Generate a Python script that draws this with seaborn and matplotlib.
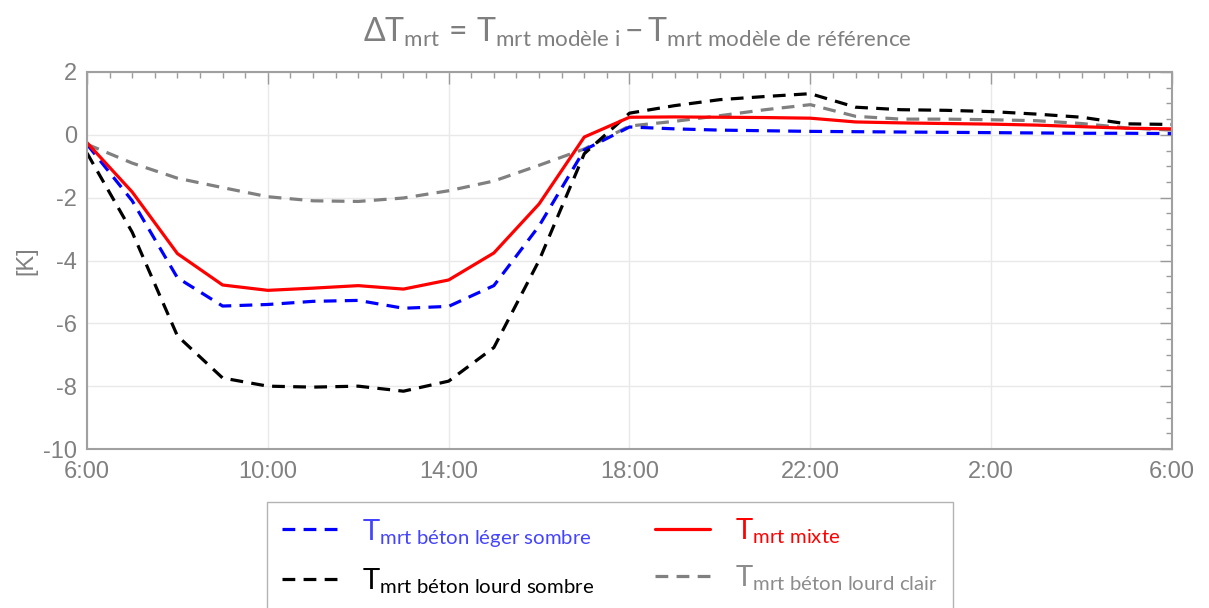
import numpy as np
import pandas as pd
import matplotlib
matplotlib.use("Agg")
import matplotlib.pyplot as plt
from matplotlib.ticker import MultipleLocator, FixedLocator
import seaborn as sns

# Hourly time axis, 6:00 to 6:00 the next day
hours = list(range(6, 31))
tick_hours = [6, 10, 14, 18, 22, 26, 30]
tick_labels = ["6:00", "10:00", "14:00", "18:00", "22:00", "2:00", "6:00"]

# Differences of mean radiant temperature to the reference model [K]
leger_sombre = [-0.30, -2.10, -4.55, -5.45, -5.40, -5.30, -5.27, -5.52, -5.46, -4.80,
                -2.90, -0.48, 0.25, 0.19, 0.15, 0.13, 0.11, 0.10, 0.09, 0.08,
                0.07, 0.06, 0.05, 0.05, 0.04]
mixte = [-0.25, -1.82, -3.78, -4.78, -4.95, -4.88, -4.80, -4.91, -4.62, -3.76,
         -2.20, -0.07, 0.56, 0.57, 0.56, 0.55, 0.53, 0.41, 0.38, 0.36,
         0.34, 0.31, 0.26, 0.21, 0.19]
lourd_sombre = [-0.58, -3.10, -6.40, -7.74, -8.00, -8.03, -8.00, -8.16, -7.84, -6.77,
                -4.00, -0.60, 0.69, 0.93, 1.12, 1.22, 1.31, 0.88, 0.80, 0.78,
                0.74, 0.66, 0.56, 0.35, 0.33]
lourd_clair = [-0.30, -0.90, -1.38, -1.68, -1.97, -2.10, -2.12, -2.01, -1.78, -1.47,
               -0.97, -0.45, 0.28, 0.43, 0.61, 0.80, 0.96, 0.59, 0.50, 0.50,
               0.48, 0.45, 0.36, 0.22, 0.15]

sns.set_style("white")
plt.rcParams["font.family"] = ["Liberation Sans", "DejaVu Sans"]
plt.rcParams["axes.unicode_minus"] = False
plt.rcParams["mathtext.fontset"] = "custom"
plt.rcParams["mathtext.rm"] = "Lato"
plt.rcParams["mathtext.it"] = "Lato:italic"
plt.rcParams["mathtext.bf"] = "Lato:bold"

W, H = 1209, 608
fig = plt.figure(figsize=(W / 100, H / 100), dpi=100)
ax = fig.add_axes([87 / W, 1 - 449 / H, (1172 - 87) / W, (449 - 72) / H])

series = [
    ("clair", lourd_clair, "#808080", (4, 2.6)),
    ("leger", leger_sombre, "#0000ff", (4, 2.6)),
    ("lourd", lourd_sombre, "#000000", (4, 2.6)),
    ("mixte", mixte, "#ff0000", ""),
]
lines = {}
for key, vals, color, dash in series:
    df = pd.DataFrame({"h": hours, "v": vals})
    sns.lineplot(data=df, x="h", y="v", ax=ax, color=color, linewidth=2.3,
                 legend=False)
    ln = ax.lines[-1]
    if dash:
        ln.set_dashes(dash)
    lines[key] = ln

ax.set_xlim(6, 30)
ax.set_ylim(-10, 2)
ax.xaxis.set_major_locator(FixedLocator(tick_hours))
ax.set_xticklabels(tick_labels)
ax.xaxis.set_minor_locator(MultipleLocator(0.5))
ax.yaxis.set_major_locator(MultipleLocator(2))
ax.yaxis.set_minor_locator(MultipleLocator(0.5))
ax.set_xlabel("")
ax.set_ylabel("[K]", fontsize=17, color="#808080")
ax.yaxis.set_label_coords(-0.046, 0.5)

ax.grid(True, which="major", color="#e9e9e9", linewidth=1.0)
ax.tick_params(which="both", direction="in", top=True, right=True,
               color="#9a9a9a", labelcolor="#808080", labelsize=17)
ax.tick_params(which="major", length=8.5, width=1.0)
ax.tick_params(axis="x", which="major", pad=9)
ax.tick_params(axis="y", which="major", pad=7)
ax.tick_params(which="minor", length=4, width=1.0)
for sp in ax.spines.values():
    sp.set_color("#a0a0a0")
    sp.set_linewidth(1.5)

fig.text(637 / W, 1 - 32 / H,
         r"$\mathrm{\Delta T}_{\mathrm{mrt}}\,\mathrm{=}\,\mathrm{T}_{\mathrm{mrt\ modèle\ i}}"
         r"\,\mathrm{-}\,\mathrm{T}_{\mathrm{mrt\ modèle\ de\ référence}}$",
         ha="center", va="center", fontsize=23, color="#7f7f7f")

handles = [lines["leger"], lines["lourd"], lines["mixte"], lines["clair"]]
labels = [r"$\mathrm{T}_{\mathrm{mrt\ béton\ léger\ sombre}}$",
          r"$\mathrm{T}_{\mathrm{mrt\ béton\ lourd\ sombre}}$",
          r"$\mathrm{T}_{\mathrm{mrt\ mixte}}$",
          r"$\mathrm{T}_{\mathrm{mrt\ béton\ lourd\ clair}}$"]
text_colors = ["#4444ff", "#000000", "#ff0000", "#8c8c8c"]
leg = ax.legend(handles, labels, ncol=2, loc="upper left",
                bbox_to_anchor=(267 / W, 1 - 502 / H), bbox_transform=fig.transFigure,
                fontsize=21, frameon=True, fancybox=False, handlelength=1.9,
                handletextpad=0.85, columnspacing=2.1, labelspacing=0.6,
                borderpad=0.5, borderaxespad=0)
leg.get_frame().set_edgecolor("#a0a0a0")
leg.get_frame().set_linewidth(1.0)
for t, c in zip(leg.get_texts(), text_colors):
    t.set_color(c)

fig.savefig("out.png", dpi=100)
